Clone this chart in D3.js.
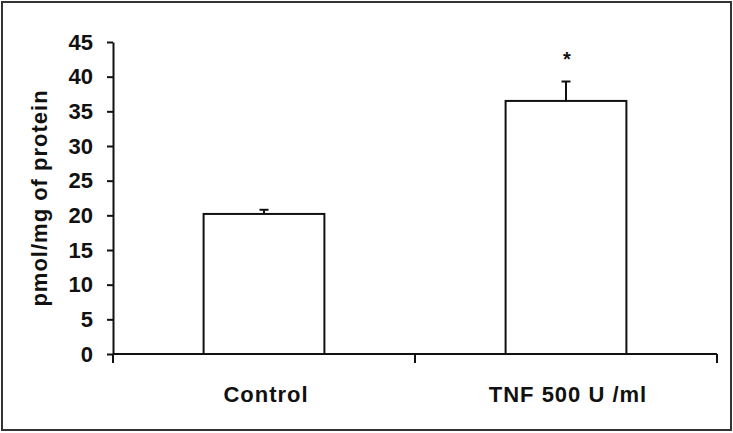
<!DOCTYPE html>
<html>
<head>
<meta charset="utf-8">
<script src="https://cdn.jsdelivr.net/npm/d3@7"></script>
<style>
  body { margin: 0; background: #fff; }
  text { font-family: "Liberation Sans", Arial, sans-serif; font-weight: bold; fill: #111; }
</style>
</head>
<body>
<div id="chart"></div>
<script>
// values
var categories = ["Control", "TNF 500 U /ml"];
var means = [20.2, 36.5];
var errors = [0.6, 2.8];
var marks = ["", "*"];
var yTicks = [0, 5, 10, 15, 20, 25, 30, 35, 40, 45];

var W = 733, H = 433;
var margin = {top: 42, right: 16, bottom: 79, left: 113};

var svg = d3.select("#chart")
  .append("svg")
  .attr("width", W)
  .attr("height", H);

// outer frame
svg.append("rect")
  .attr("x", 2).attr("y", 2)
  .attr("width", W - 4).attr("height", H - 5)
  .attr("fill", "none")
  .attr("stroke", "#333")
  .attr("stroke-width", 2);

var x = d3.scaleBand()
  .domain(categories)
  .range([margin.left, W - margin.right])
  .padding(0);

var y = d3.scaleLinear()
  .domain([0, 45])
  .range([H - margin.bottom, margin.top]);

var barW = x.bandwidth() * 0.4;

// bars
svg.selectAll(".bar")
  .data(categories)
  .enter()
  .append("rect")
  .attr("class", "bar")
  .attr("x", d => x(d) + (x.bandwidth() - barW) / 2)
  .attr("y", (d, i) => y(means[i]))
  .attr("width", barW)
  .attr("height", (d, i) => y(0) - y(means[i]))
  .attr("fill", "#fff")
  .attr("stroke", "#111")
  .attr("stroke-width", 2);

// error bars (upper only)
categories.forEach(function(c, i) {
  let cx = x(c) + x.bandwidth() / 2;
  svg.append("line")
    .attr("x1", cx).attr("x2", cx)
    .attr("y1", y(means[i])).attr("y2", y(means[i] + errors[i]))
    .attr("stroke", "#111").attr("stroke-width", 2);
  svg.append("line")
    .attr("x1", cx - 4.5).attr("x2", cx + 4.5)
    .attr("y1", y(means[i] + errors[i])).attr("y2", y(means[i] + errors[i]))
    .attr("stroke", "#111").attr("stroke-width", 2);
  if (marks[i]) {
    svg.append("text")
      .attr("x", cx + 1)
      .attr("y", y(means[i] + errors[i]) - 16)
      .attr("text-anchor", "middle")
      .style("font-size", "20px")
      .text(marks[i]);
  }
});

// y axis
var yAxis = svg.append("g")
  .attr("transform", "translate(" + margin.left + ",0)")
  .call(d3.axisLeft(y).tickValues(yTicks).tickSizeInner(6).tickSizeOuter(0).tickPadding(14));
yAxis.select(".domain").attr("stroke", "#111").attr("stroke-width", 2);
yAxis.selectAll(".tick line").attr("stroke", "#111").attr("stroke-width", 2);
yAxis.selectAll(".tick text")
  .style("font-size", "22px")
  .style("font-family", "'Liberation Sans', Arial, sans-serif")
  .style("font-weight", "bold")
  .attr("fill", "#111");

// x axis line and category boundary ticks
svg.append("line")
  .attr("x1", x.range()[0]).attr("x2", x.range()[1])
  .attr("y1", y(0)).attr("y2", y(0))
  .attr("stroke", "#111").attr("stroke-width", 2);

var bounds = categories.map(c => x(c)).concat([x.range()[1]]);
svg.selectAll(".xtick")
  .data(bounds)
  .enter()
  .append("line")
  .attr("class", "xtick")
  .attr("x1", d => d).attr("x2", d => d)
  .attr("y1", y(0)).attr("y2", y(0) + 9)
  .attr("stroke", "#111").attr("stroke-width", 2);

svg.selectAll(".xlabel")
  .data(categories)
  .enter()
  .append("text")
  .attr("class", "xlabel")
  .attr("x", d => x(d) + x.bandwidth() / 2 + 2)
  .attr("y", y(0) + 48)
  .attr("text-anchor", "middle")
  .style("font-size", "22px")
  .style("letter-spacing", "1px")
  .text(d => d);

// y title
svg.append("text")
  .attr("transform", "translate(47," + 198 + ") rotate(-90)")
  .attr("text-anchor", "middle")
  .style("font-size", "22px")
  .style("letter-spacing", "1px")
  .text("pmol/mg of protein");
</script>
</body>
</html>
